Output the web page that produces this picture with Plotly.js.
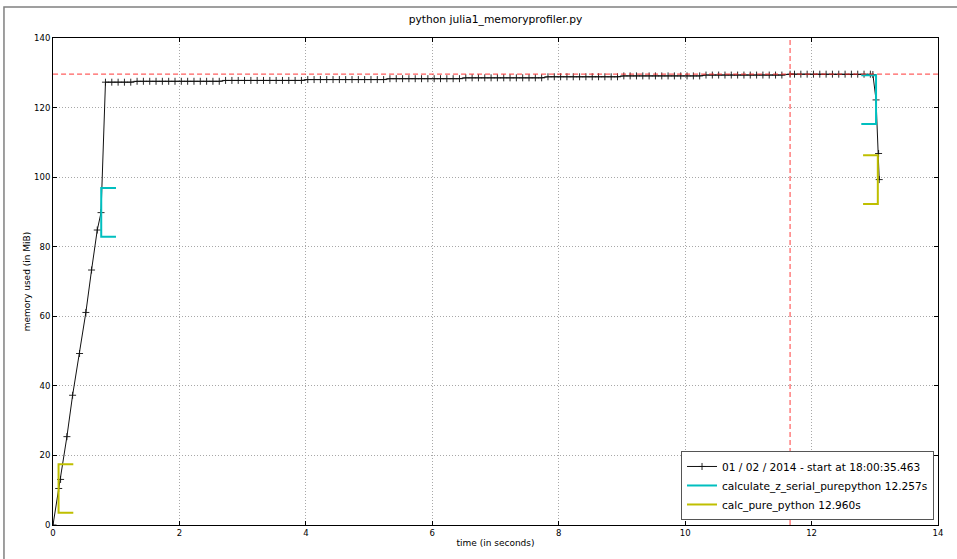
<!DOCTYPE html>
<html>
<head>
<meta charset="utf-8">
<script src="https://cdn.plot.ly/plotly-3.0.1.min.js"></script>
<style>html,body{margin:0;padding:0;background:#fff;}#chart{width:957px;height:559px;}</style>
</head>
<body>
<div id="chart"></div>
<script>
// Sample times (s) of the memory profile
const time = [0.00,0.09,0.12,0.22,0.31,0.42,0.52,0.61,0.70,0.76,
0.83,0.93,1.03,1.13,1.23,
1.33,1.43,1.53,1.63,1.73,1.83,1.93,2.03,2.13,2.23,2.33,2.43,2.53,2.63,
2.73,2.83,2.93,3.03,3.13,3.23,3.33,3.43,3.53,3.63,3.73,3.83,3.93,
4.03,4.13,4.23,4.33,4.43,4.53,4.63,4.73,4.83,4.93,5.03,5.13,5.23,
5.33,5.43,5.53,5.63,5.73,5.83,5.93,6.03,6.13,6.23,6.33,6.43,
6.53,6.63,6.73,6.83,6.93,7.03,7.13,7.23,7.33,7.43,7.53,7.63,7.73,
7.83,7.93,8.03,8.13,8.23,8.33,8.43,8.53,8.63,8.73,8.83,8.93,
9.03,9.13,9.23,9.33,9.43,9.53,9.63,9.73,9.83,9.93,10.03,10.13,10.23,
10.33,10.43,10.53,10.63,10.73,10.83,10.93,11.03,11.13,11.23,11.33,11.43,11.53,
11.66,11.73,11.83,11.93,12.03,12.13,12.23,12.33,12.43,12.53,12.63,12.73,12.83,12.93,
12.97,13.02,13.06,13.07];

// Memory used (MiB)
const memory = [0,10.5,13.1,25.4,37.3,49.3,61.1,73.3,84.8,89.8,
127.3,127.3,127.3,127.3,127.3,
127.55,127.55,127.55,127.55,127.55,127.55,127.55,127.55,127.55,127.55,127.55,127.55,127.55,127.55,
127.8,127.8,127.8,127.8,127.8,127.8,127.8,127.8,127.8,127.8,127.8,127.8,127.8,
128.05,128.05,128.05,128.05,128.05,128.05,128.05,128.05,128.05,128.05,128.05,128.05,128.05,
128.3,128.3,128.3,128.3,128.3,128.3,128.3,128.3,128.3,128.3,128.3,128.3,
128.55,128.55,128.55,128.55,128.55,128.55,128.55,128.55,128.55,128.55,128.55,128.55,128.55,
128.85,128.85,128.85,128.85,128.85,128.85,128.85,128.85,128.85,128.85,128.85,128.85,
129.1,129.1,129.1,129.1,129.1,129.1,129.1,129.1,129.1,129.1,129.1,129.1,129.1,
129.35,129.35,129.35,129.35,129.35,129.35,129.35,129.35,129.35,129.35,129.35,129.35,129.35,
129.6,129.6,129.6,129.6,129.6,129.6,129.6,129.6,129.6,129.6,129.6,129.6,129.6,129.6,
129.5,122.2,106.8,99.3];

const memLabel = "01 / 02 / 2014 - start at 18:00:35.463";

// Function records: name, start time, start mem, end time, end mem
const funcNames  = ["calculate_z_serial_purepython", "calc_pure_python"];
const funcStartT = [0.763, 0.088];
const funcStartM = [89.9, 10.5];
const funcEndT   = [13.020, 13.048];
const funcEndM   = [122.3, 99.3];
const funcColors = ["#00bfbf", "#bfbf00"];

const xTicks = [0,2,4,6,8,10,12,14];
const yTicks = [0,20,40,60,80,100,120,140];
const xRange = [0,14], yRange = [0,140];

const traces = [];
traces.push({
  x: time, y: memory, type: "scatter", mode: "lines+markers", name: memLabel,
  line: {color: "#111", width: 1},
  marker: {symbol: "cross-thin-open", size: 5, line: {color: "#111", width: 0.9}}
});

const vsize = (yRange[1]-yRange[0])/20;
const hsize = (xRange[1]-xRange[0])/60;
for (let i = 0; i < funcNames.length; i++) {
  const t0 = funcStartT[i], t1 = funcEndT[i], m0 = funcStartM[i], m1 = funcEndM[i];
  const label = funcNames[i] + " " + (t1 - t0).toFixed(3) + "s";
  traces.push({
    x: [t0+hsize, t0, t0, t0+hsize], y: [m0+vsize, m0+vsize, m0-vsize, m0-vsize],
    type: "scatter", mode: "lines", name: label,
    line: {color: funcColors[i], width: 2}
  });
  traces.push({
    x: [t1-hsize, t1, t1, t1-hsize], y: [m1+vsize, m1+vsize, m1-vsize, m1-vsize],
    type: "scatter", mode: "lines", name: label, showlegend: false,
    line: {color: funcColors[i], width: 2}
  });
}

const maxMem = Math.max(...memory);
const peakT = time[memory.indexOf(maxMem)];
traces.push({x: [xRange[0]+0.001, xRange[1]-0.001], y: [maxMem, maxMem], type: "scatter", mode: "lines",
  showlegend: false, hoverinfo: "skip", line: {color: "rgba(255,40,40,0.75)", width: 1.2, dash: "5px,3px"}});
traces.push({x: [peakT, peakT], y: [yRange[0]+0.001, yRange[1]-0.001], type: "scatter", mode: "lines",
  showlegend: false, hoverinfo: "skip", line: {color: "rgba(255,40,40,0.75)", width: 1.2, dash: "5px,3px"}});

const axisCommon = {
  showline: true, mirror: "allticks", linecolor: "#000", linewidth: 1,
  ticks: "inside", ticklen: 4, tickcolor: "#000", tickwidth: 1,
  showgrid: true, gridcolor: "#a8a8a8", griddash: "1px,2px", gridwidth: 1,
  zeroline: false, tickfont: {size: 8.5, color: "#000"}, fixedrange: true
};

const layout = {
  width: 957, height: 559,
  margin: {l: 53, r: 19, t: 38, b: 34, pad: 0},
  paper_bgcolor: "#fff", plot_bgcolor: "#fff",
  font: {family: "DejaVu Sans", color: "#000"},
  title: {text: "python julia1_memoryprofiler.py", font: {size: 10.7, color: "#000"},
          x: 0.5, xref: "paper", y: 1 - 19/559, yref: "container", yanchor: "middle"},
  xaxis: Object.assign({}, axisCommon, {range: xRange, tickvals: xTicks, ticktext: xTicks.map(String),
          title: {text: "time (in seconds)", font: {size: 9}, standoff: 2}}),
  yaxis: Object.assign({}, axisCommon, {range: yRange, tickvals: yTicks, ticktext: yTicks.map(String),
          title: {text: "memory used (in MiB)", font: {size: 9}, standoff: 1}}),
  legend: {x: 0.9955, xanchor: "right", y: 0.0103, yanchor: "bottom", bgcolor: "#fff",
           bordercolor: "#555", borderwidth: 1, font: {size: 10.6, color: "#000"},
           itemwidth: 30, traceorder: "normal"},
  showlegend: true,
  shapes: [{type: "rect", xref: "paper", yref: "paper",
            x0: -0.0554, x1: 1.04, y0: -0.1, y1: 1.0637,
            line: {color: "#808080", width: 1.5}, fillcolor: "rgba(0,0,0,0)", layer: "below"}]
};

Plotly.newPlot("chart", traces, layout, {displayModeBar: false, staticPlot: true});
</script>
</body>
</html>
